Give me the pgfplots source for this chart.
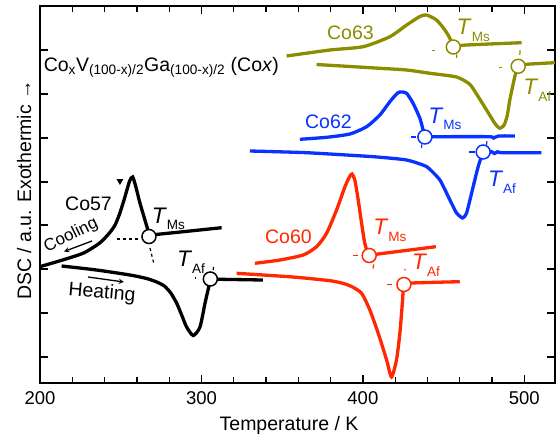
\documentclass[border=0pt]{standalone}
\usepackage{fontspec}
\setmainfont{Liberation Sans}
\usepackage{pgfplots}
\pgfplotsset{compat=1.18}
\definecolor{cred}{RGB}{255,40,0}
\definecolor{cblue}{RGB}{10,50,255}
\definecolor{colive}{RGB}{140,140,0}
\newcommand\sub[1]{\raisebox{-6.5pt}{\fontsize{13.5}{13.5}\selectfont #1}}
\newcommand\TT[1]{{\fontsize{22.5}{22}\selectfont\textit{T}\sub{#1}}}
\newcommand\fs{\fontsize{18.5}{20}\selectfont}
\newcommand\fl{\fontsize{19.5}{21}\selectfont}
\begin{document}
\begin{tikzpicture}
\begin{axis}[at={(40pt,53pt)}, anchor=south west, scale only axis,
  width=515pt, height=377pt, xmin=200, xmax=519, ymin=0, ymax=377, clip=false,
  xtick={200,300,400,500}, minor xtick={220,240,...,500},
  ytick={26,70,114,158,201,245,289,333}, yticklabels={},
  tick align=inside, major tick length=8pt, minor tick length=6pt,
  axis line style={line width=1.6pt},
  every tick/.style={black, line width=1.3pt},
  tick label style={font=\fs}, /pgf/number format/assume math mode=true,
  xticklabel style={yshift=-5pt},
  xlabel={Temperature / K},
  xlabel style={at={(axis description cs:0.4835,0)}, anchor=base, yshift=-47pt, font=\fl},
  ylabel={DSC / a.u. Exothermic →},
  ylabel style={at={(axis description cs:-0.031,0.512)}, anchor=center, font=\fl},
]
% Co57
\addplot[black, line width=3.3pt, smooth, tension=0.4] coordinates {
(200.3,116.5) (214,123) (227,130) (237,140) (243,150) (246.5,158) (249.5,170) (252.6,186) (255.5,202) (257.4,206) (259.4,196) (261.9,180) (265,163) (267,152) (267.8,147) (272,148.5) (290,151.5) (312.5,155.3)};
\addplot[black, line width=3.3pt, smooth, tension=0.4] coordinates {
(213.4,117) (235,113) (255.7,108) (266,104.5) (272.3,101) (277,97) (281,90) (284.6,80) (288,67) (290.8,56) (294.9,47.5) (299.1,56) (302.2,79.7) (304.5,96) (305.5,104) (311.5,103.7) (338,103)};
% Co60
\addplot[cred, line width=3.3pt, smooth, tension=0.4] coordinates {
(333.1,119.7) (348.6,123) (363,128) (371.3,136.3) (377.5,149.7) (383.7,173) (388.9,196.3) (392,207) (393.3,209) (395,203) (397.1,183) (399.2,159.7) (401.2,139.7) (403.9,127.5) (409.5,129) (445.2,136.3)};
\addplot[cred, line width=3.3pt, smooth, tension=0.4] coordinates {
(321.8,109.7) (338.3,108) (359,105.7) (379.6,102.3) (388,99.5) (393,96.5) (399.2,89.7) (404.3,73) (409.5,49.7) (414.7,23) (417.7,6) (420.8,23) (422.9,49.7) (424.6,83) (425.4,98.5) (430.3,100) (460,101.3)};
% Co62
\addplot[cblue, line width=3.3pt, smooth, tension=0.4] coordinates {
(361,243.7) (377.5,245.7) (391.9,249) (402.3,256.3) (410.5,268) (416.7,281.3) (421.5,290) (424,291) (427.1,289.7) (431.1,279.7) (435.3,264.7) (437.3,253) (438.4,246) (445.6,246.3) (478,246.3) (481,245) (484,247) (494.1,247)};
\addplot[cblue, line width=3.3pt, smooth, tension=0.3] coordinates {
(330,232) (365.1,230.3) (406.4,226.3) (427.1,223) (439.5,216.3) (447.7,203) (453.9,183) (458,170) (461.7,165) (464.2,169.7) (468.3,196.3) (471.4,216.3) (474.5,231) (477.5,229.5) (479.5,231.5) (481.5,229.5) (483.5,231.3) (486,230.3) (510.6,230.3)};
% Co63
\addplot[colive, line width=3.3pt, smooth, tension=0.4] coordinates {
(352.8,327) (379.6,333) (400.2,336.3) (416.7,346.3) (427.1,358) (435.3,366.5) (439.4,368) (445.6,363) (450.8,353) (453.9,344.7) (456,337) (464.2,338) (498.3,340.3)};
\addplot[colive, line width=3.3pt, smooth, tension=0.4] coordinates {
(371.3,318.5) (410.5,314.7) (427.1,313) (441.5,309.7) (458,306) (466,299) (470,290) (476.6,273) (482,259) (484.8,254.7) (487.5,258) (489.5,268) (491,283) (494.1,306.3) (496.2,316.7) (501.4,318.7) (519,320.3)};
% crosshair dashes
\addplot[black, line width=1.2pt, dashed] coordinates {(247.7,144) (261.9,144)};
\addplot[black, line width=1.2pt, dashed] coordinates {(268.1,135) (270.6,119)};
\addplot[black, line width=1.2pt] coordinates {(296,105) (296.6,105)};
\addplot[black, line width=1.2pt] coordinates {(307.3,113) (307.5,116)};
\addplot[cred, line width=1.2pt] coordinates {(394,127.3) (397,127.3)};
\addplot[cred, line width=1.2pt] coordinates {(406.2,114.5) (406.8,118.5)};
\addplot[cred, line width=1.2pt] coordinates {(415,98.5) (418,98.5)};
\addplot[cred, line width=1.2pt] coordinates {(426,112.5) (426.2,114)};
\addplot[cblue, line width=1.2pt] coordinates {(429.7,246) (432.8,246)};
\addplot[cblue, line width=1.2pt] coordinates {(436.3,235) (436.5,238.5)};
\addplot[cblue, line width=1.2pt] coordinates {(466,231) (469.5,231)};
\addplot[cblue, line width=1.2pt] coordinates {(476.6,238) (476.8,242)};
\addplot[colive, line width=1.2pt] coordinates {(442.5,332.5) (444.5,332.5)};
\addplot[colive, line width=1.2pt] coordinates {(458,325) (458.2,328.5)};
\addplot[colive, line width=1.2pt] coordinates {(484.2,315.5) (486,315.5)};
\addplot[colive, line width=1.2pt] coordinates {(497.2,328) (497.4,333)};
% circles
\addplot[only marks, mark=*, mark size=7pt, mark options={fill=white, draw=black, line width=1.5pt}] coordinates {(267.5,146.5) (305.5,104)};
\addplot[only marks, mark=*, mark size=7pt, mark options={fill=white, draw=cred, line width=1.5pt}] coordinates {(403.9,127.5) (425.4,98.5)};
\addplot[only marks, mark=*, mark size=7pt, mark options={fill=white, draw=cblue, line width=1.5pt}] coordinates {(438.4,246) (474.5,231)};
\addplot[only marks, mark=*, mark size=7pt, mark options={fill=white, draw=colive, line width=1.5pt}] coordinates {(456,336) (496.2,316.7)};
% arrow marker and heating/cooling arrows
\addplot[only marks, mark=triangle*, mark size=3.5pt, mark options={rotate=180, fill=black, draw=black}] coordinates {(249.5,202)};
\addplot[black, line width=1.3pt, -stealth] coordinates {(232.2,142) (214.9,131.5)};
\addplot[black, line width=1.3pt, -stealth] coordinates {(229.7,106) (252,101)};
% labels
\node[anchor=base west, inner sep=0, font=\fl] at (axis cs:202.2,311.3) {Co\textsubscript{x}V\textsubscript{(100-x)/2}Ga\textsubscript{(100-x)/2} (Co\textit{x})};
\node[anchor=base west, inner sep=0, font=\fl] at (axis cs:215.5,172.5) {Co57};
\node[anchor=base west, inner sep=0] at (axis cs:269.2,159.7) {\TT{Ms}};
\node[anchor=base west, inner sep=0] at (axis cs:284.8,116.3) {\TT{Af}};
\node[inner sep=0, font=\fontsize{17}{18}\selectfont, rotate=26] at (axis cs:219.2,147.5) {Cooling};
\node[inner sep=0, font=\fl, rotate=-5] at (axis cs:238.4,90) {Heating};
\node[anchor=base west, inner sep=0, font=\fl, text=cred] at (axis cs:339.3,139.7) {Co60};
\node[anchor=base west, inner sep=0, text=cred] at (axis cs:406.4,148) {\TT{Ms}};
\node[anchor=base west, inner sep=0, text=cred] at (axis cs:430.3,113) {\TT{Af}};
\node[anchor=base west, inner sep=0, font=\fl, text=cblue] at (axis cs:364.1,254.7) {Co62};
\node[anchor=base west, inner sep=0, text=cblue] at (axis cs:440.4,259.7) {\TT{Ms}};
\node[anchor=base west, inner sep=0, text=cblue] at (axis cs:477.4,196.3) {\TT{Af}};
\node[anchor=base west, inner sep=0, font=\fl, text=colive] at (axis cs:377.7,343) {Co63};
\node[anchor=base west, inner sep=0, text=colive] at (axis cs:458,348) {\TT{Ms}};
\node[anchor=base west, inner sep=0, text=colive] at (axis cs:499.3,288) {\TT{Af}};
\end{axis}
\pgfresetboundingbox
\path (0,0) rectangle (556pt,436pt);
\end{tikzpicture}
\end{document}
